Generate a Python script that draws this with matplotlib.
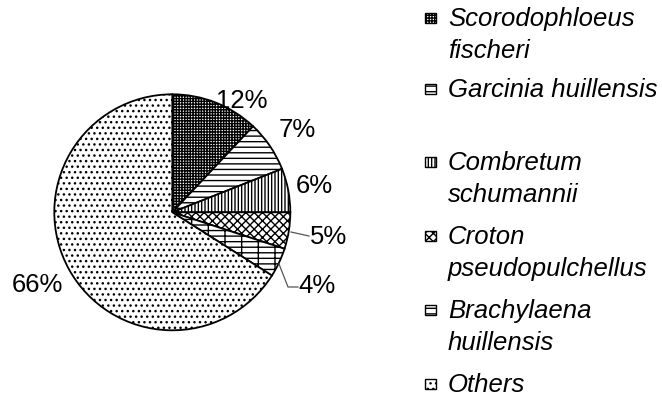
import numpy as np
import matplotlib
matplotlib.use("Agg")
import matplotlib.pyplot as plt
from matplotlib.patches import Rectangle

plt.rcParams['font.family'] = ['Liberation Sans', 'DejaVu Sans']

# dados do gráfico
species = ['Scorodophloeus\nfischeri', 'Garcinia huillensis',
           'Combretum\nschumannii', 'Croton\npseudopulchellus',
           'Brachylaena\nhuillensis', 'Others']
shares = [12, 7, 6, 5, 4, 66]
hatches = ['++++++', '---', '|||||', 'xxxx', '---|', '...']

W, H = 662, 402
fig = plt.figure(figsize=(W / 100, H / 100), dpi=100)
ax = fig.add_axes([0, 0, 1, 1])
ax.set_xlim(0, W)
ax.set_ylim(0, H)
ax.set_aspect('equal')
ax.axis('off')

# pizza em coordenadas de pixel (y para cima)
cx, cy, R = 172.3, H - 213.3, 118
wedges, texts, autotexts = ax.pie(
    shares, center=(cx, cy), radius=R, startangle=90, counterclock=False,
    colors=['white'] * len(shares), autopct='%.0f%%', pctdistance=1.2,
    wedgeprops=dict(edgecolor='black', linewidth=1.3),
    textprops=dict(fontsize=18.5))
ax.set_xlim(0, W)
ax.set_ylim(0, H)
for w, h in zip(wedges, hatches):
    w.set_hatch(h)

# posição dos rótulos de porcentagem (linha de pixel)
label_pos = [(242, 101), (297, 130), (314, 186), (329, 237), (317, 286), (37, 285)]
for t, (x, y) in zip(autotexts, label_pos):
    t.set_position((x, H - y))
    t.set_ha('center')
    t.set_va('center')

# linhas de chamada para 5% e 4%
ax.plot([291, 309], [H - 233, H - 237], color='#555555', lw=0.9)
ax.plot([279, 288, 298], [H - 265, H - 288, H - 288], color='#555555', lw=0.9)

# legenda manual
base_rows = [26, 97, 170, 244, 318, 392]
for name, h, b in zip(species, hatches, base_rows):
    ax.add_patch(Rectangle((425, H - b + 2), 11, 10, facecolor='white',
                           edgecolor='black', hatch=h, lw=1.0))
    for k, line in enumerate(name.split('\n')):
        ax.text(448, H - b - 32 * k, line, fontsize=18.5, style='italic',
                ha='left', va='baseline')

fig.savefig('out.png', dpi=100)
